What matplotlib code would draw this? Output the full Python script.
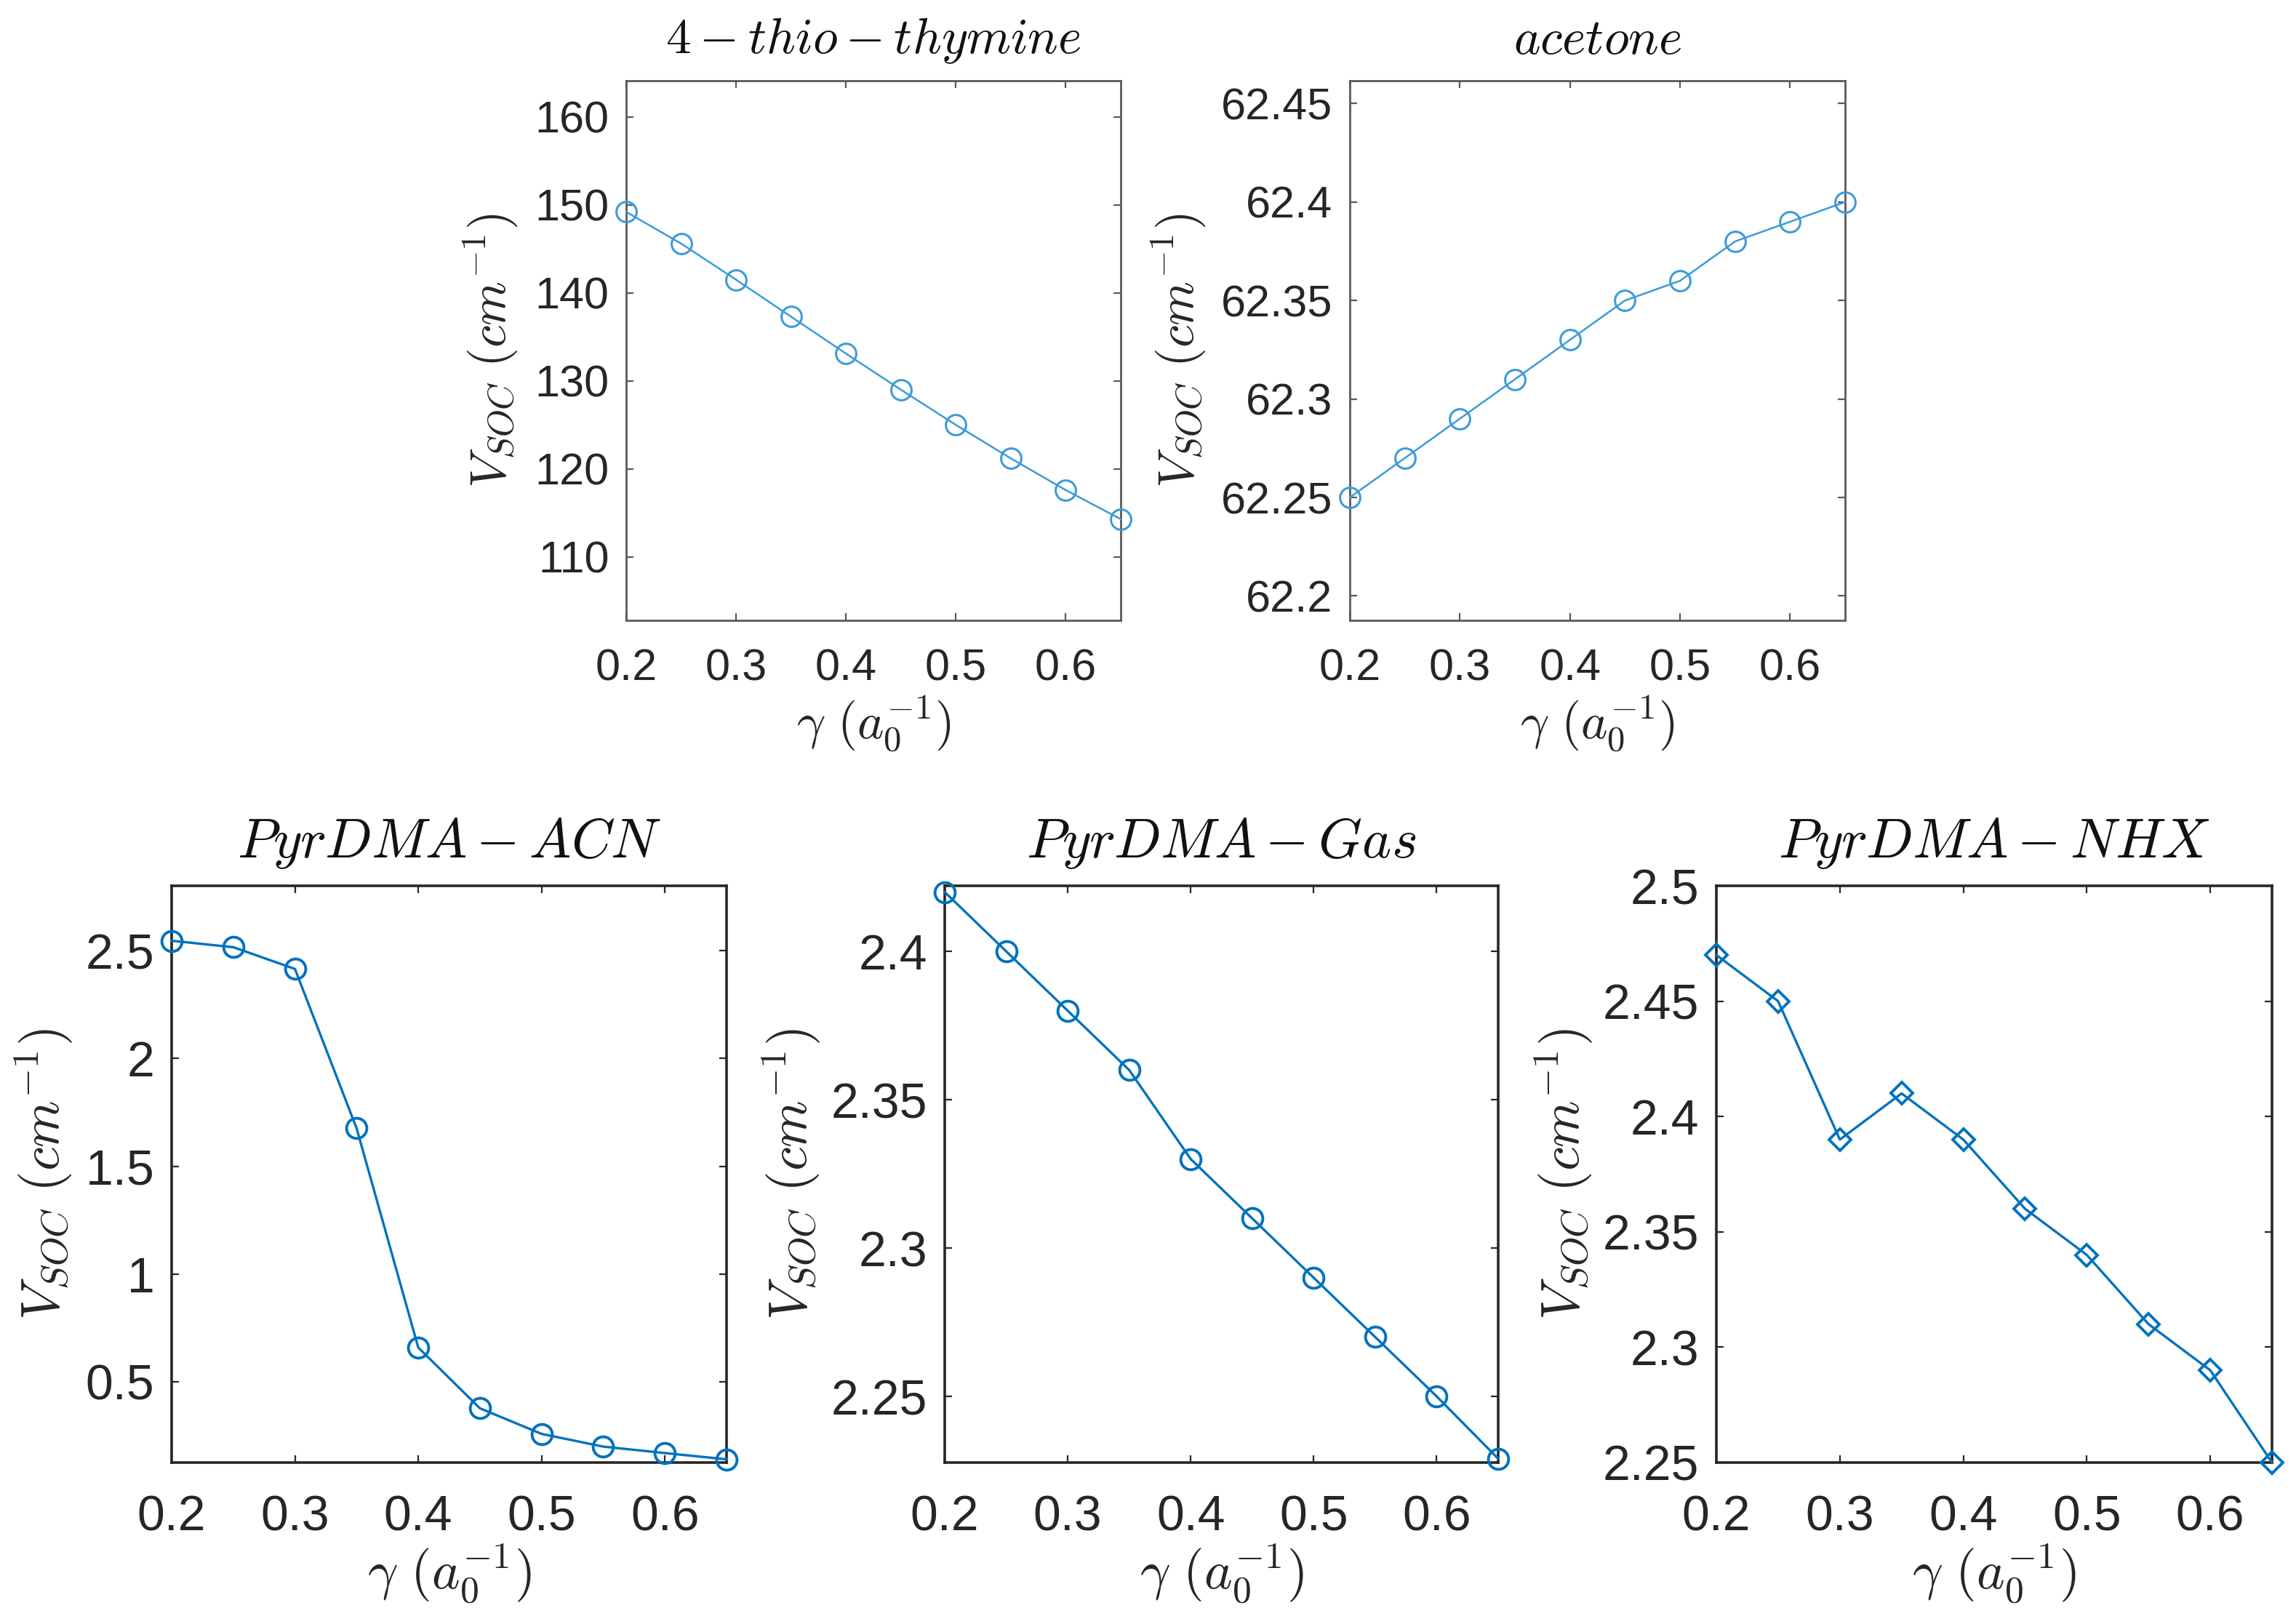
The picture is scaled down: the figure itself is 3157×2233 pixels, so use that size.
import matplotlib
matplotlib.use("Agg")
import matplotlib.pyplot as plt

plt.rcParams['font.family'] = ['Liberation Sans', 'DejaVu Sans']
plt.rcParams['mathtext.fontset'] = 'cm'

# ---------------- data ----------------
gamma = [0.20, 0.25, 0.30, 0.35, 0.40, 0.45, 0.50, 0.55, 0.60, 0.65]
x_ticks = [0.2, 0.3, 0.4, 0.5, 0.6]
x_ticklabels = ["0.2", "0.3", "0.4", "0.5", "0.6"]

thio_vals = [149.2, 145.6, 141.5, 137.3, 133.1, 129.0, 125.0, 121.2, 117.6, 114.3]
thio_yticks = [110, 120, 130, 140, 150, 160]
thio_yticklabels = ["110", "120", "130", "140", "150", "160"]

acetone_vals = [62.25, 62.27, 62.29, 62.31, 62.33, 62.35, 62.36, 62.38, 62.39, 62.40]
acetone_yticks = [62.2, 62.25, 62.3, 62.35, 62.4, 62.45]
acetone_yticklabels = ["62.2", "62.25", "62.3", "62.35", "62.4", "62.45"]

acn_vals = [2.547, 2.517, 2.416, 1.676, 0.658, 0.376, 0.257, 0.198, 0.168, 0.139]
acn_yticks = [0.5, 1.0, 1.5, 2.0, 2.5]
acn_yticklabels = ["0.5", "1", "1.5", "2", "2.5"]

gas_vals = [2.42, 2.40, 2.38, 2.36, 2.33, 2.31, 2.29, 2.27, 2.25, 2.229]
gas_yticks = [2.25, 2.30, 2.35, 2.40]
gas_yticklabels = ["2.25", "2.3", "2.35", "2.4"]

nhx_vals = [2.47, 2.45, 2.39, 2.41, 2.39, 2.36, 2.34, 2.31, 2.29, 2.25]
nhx_yticks = [2.25, 2.30, 2.35, 2.40, 2.45, 2.50]
nhx_yticklabels = ["2.25", "2.3", "2.35", "2.4", "2.45", "2.5"]

titles = [r"$4-thio-thymine$", r"$acetone$", r"$PyrDMA-ACN$",
          r"$PyrDMA-Gas$", r"$PyrDMA-NHX$"]
ylabel = r"$V_{SOC}\ (cm^{-1})$"
xlabel = r"$\gamma\ (a_0^{-1})$"

# ---------------- figure ----------------
W, H = 3157, 2233
fig = plt.figure(figsize=(W / 100, H / 100), dpi=100)

def frac(l, t, r, b):
    return [l / W, 1 - b / H, (r - l) / W, (b - t) / H]

top_col = '#3d9bd8'
bot_col = '#0072BD'

panels = [
    dict(rect=frac(861, 111, 1541, 853), y=thio_vals, ylim=(102.8, 164.1),
         yt=thio_yticks, ytl=thio_yticklabels, title=titles[0], marker='o',
         col=top_col, spine='#5a5a5a', tfs=44, lfs=50, titfs=50, ylx=-0.275, big=False),
    dict(rect=frac(1856, 111, 2537, 853), y=acetone_vals, ylim=(62.1876, 62.4616),
         yt=acetone_yticks, ytl=acetone_yticklabels, title=titles[1], marker='o',
         col=top_col, spine='#5a5a5a', tfs=44, lfs=50, titfs=50, ylx=-0.347, big=False),
    dict(rect=frac(236, 1218, 999, 2011), y=acn_vals, ylim=(0.124, 2.802),
         yt=acn_yticks, ytl=acn_yticklabels, title=titles[2], marker='o',
         col=bot_col, spine='#262626', tfs=49, lfs=53, titfs=55, ylx=-0.231, big=True),
    dict(rect=frac(1299, 1218, 2060, 2011), y=gas_vals, ylim=(2.2277, 2.4221),
         yt=gas_yticks, ytl=gas_yticklabels, title=titles[3], marker='o',
         col=bot_col, spine='#262626', tfs=49, lfs=53, titfs=55, ylx=-0.278, big=True),
    dict(rect=frac(2360, 1218, 3124, 2011), y=nhx_vals, ylim=(2.25, 2.50),
         yt=nhx_yticks, ytl=nhx_yticklabels, title=titles[4], marker='D',
         col=bot_col, spine='#262626', tfs=49, lfs=53, titfs=55, ylx=-0.275, big=True),
]

for p in panels:
    ax = fig.add_axes(p['rect'])
    ms = 20 if p['marker'] == 'o' else 15
    ax.plot(gamma, p['y'], color=p['col'], lw=2.4 if p['big'] else 1.8,
            marker=p['marker'], ms=ms, mfc='none', mec=p['col'],
            mew=2.8 if p['big'] else 2.2, clip_on=False, zorder=3)
    ax.set_xlim(0.2, 0.65)
    ax.set_ylim(*p['ylim'])
    ax.set_xticks(x_ticks)
    ax.set_xticklabels(x_ticklabels)
    ax.set_yticks(p['yt'])
    ax.set_yticklabels(p['ytl'])
    sw = 2.6 if p['big'] else 2.0
    for s in ax.spines.values():
        s.set_color(p['spine'])
        s.set_linewidth(sw)
    ax.tick_params(axis='both', which='both', direction='in', top=True, right=True,
                   length=7, width=1.6, color=p['spine'],
                   labelsize=p['tfs'], labelcolor='#262626')
    ax.tick_params(axis='x', pad=31 if p['big'] else 28)
    ax.tick_params(axis='y', pad=17)
    ax.set_title(p['title'], fontsize=p['titfs'], y=1.074, va='center', pad=0,
                 color='#111111')
    ax.set_ylabel(ylabel, fontsize=p['lfs'], va='center', color='#262626')
    ax.yaxis.set_label_coords(p['ylx'], 0.5)
    ax.set_xlabel(xlabel, fontsize=p['lfs'], va='center', color='#262626')
    ax.xaxis.set_label_coords(0.5, -0.193)

fig.savefig("out.png", dpi=100, facecolor='white')
